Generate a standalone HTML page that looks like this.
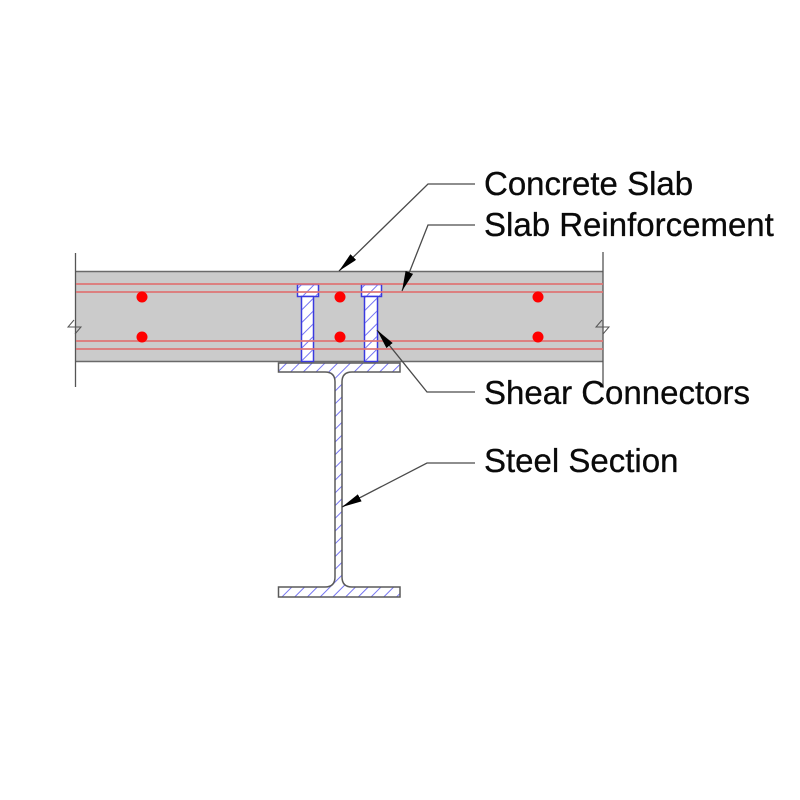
<!DOCTYPE html>
<html><head><meta charset="utf-8"><style>
html,body{margin:0;padding:0;background:#fff;}
svg{display:block;}
text{font-family:"Liberation Sans",Arial,sans-serif;font-size:33px;fill:#0a0a0a;stroke:#0a0a0a;stroke-width:0.3px;}
</style></head><body>
<svg width="800" height="800" viewBox="0 0 800 800" xmlns="http://www.w3.org/2000/svg">
<defs>
<pattern id="h" patternUnits="userSpaceOnUse" width="9" height="9" patternTransform="rotate(45)">
<line x1="0" y1="0" x2="0" y2="9" stroke="#6e6ef0" stroke-width="1.9"/>
</pattern>
<marker id="a" markerUnits="userSpaceOnUse" markerWidth="22" markerHeight="10" refX="20" refY="4" orient="auto">
<path d="M0,0 L20,4 L0,8 z" fill="#000"/>
</marker>
</defs>
<rect width="800" height="800" fill="#fff"/>
<!-- slab -->
<rect x="75" y="271" width="528" height="91" fill="#cbcbcb"/>
<line x1="75" y1="271.5" x2="603" y2="271.5" stroke="#6a6a6a" stroke-width="1.5"/>
<line x1="75" y1="361.5" x2="603" y2="361.5" stroke="#6a6a6a" stroke-width="1.5"/>
<line x1="75.5" y1="253" x2="75.5" y2="387" stroke="#555" stroke-width="1.3"/>
<line x1="603" y1="252" x2="603" y2="388" stroke="#555" stroke-width="1.3"/>
<polyline points="74,320 68,327 81,327 75,334" fill="none" stroke="#555" stroke-width="1"/>
<polyline points="602,320 596,327 609,327 603,334" fill="none" stroke="#555" stroke-width="1"/>
<!-- studs -->
<g fill="#fff" stroke="#3a3ae0" stroke-width="1.5">
<rect x="297.5" y="284.5" width="21" height="12"/>
<rect x="301.5" y="296.5" width="12" height="65"/>
<rect x="361.5" y="284.5" width="20" height="12"/>
<rect x="364.5" y="296.5" width="13" height="65"/>
</g>
<g fill="url(#h)">
<rect x="298" y="285" width="20" height="11"/>
<rect x="302" y="297" width="11" height="64"/>
<rect x="362" y="285" width="19" height="11"/>
<rect x="365" y="297" width="12" height="64"/>
</g>
<!-- rebar lines -->
<g stroke="#e07474" stroke-width="2" opacity="0.85">
<line x1="76" y1="284" x2="603" y2="284"/>
<line x1="76" y1="292" x2="603" y2="292"/>
<line x1="76" y1="341" x2="603" y2="341"/>
<line x1="76" y1="349" x2="603" y2="349"/>
</g>
<g fill="#f00">
<circle cx="142" cy="297" r="5.5"/><circle cx="142" cy="337" r="5.5"/>
<circle cx="340" cy="297" r="5.5"/><circle cx="340" cy="337" r="5.5"/>
<circle cx="538" cy="297" r="5.5"/><circle cx="538" cy="337" r="5.5"/>
</g>
<!-- steel section -->
<path d="M278.5,363 H400 V372 H352 Q342,372 342,382 V577 Q342,587 352,587 H400 V597 H278.5 V587 H325 Q335,587 335,577 V382 Q335,372 325,372 H278.5 Z" fill="#fff"/>
<path d="M278.5,363 H400 V372 H352 Q342,372 342,382 V577 Q342,587 352,587 H400 V597 H278.5 V587 H325 Q335,587 335,577 V382 Q335,372 325,372 H278.5 Z" fill="url(#h)" stroke="#5a5a5a" stroke-width="1.5"/>
<!-- leaders -->
<g fill="none" stroke="#4a4a4a" stroke-width="1.3">
<polyline points="475,184 428,184 339,271" marker-end="url(#a)"/>
<polyline points="475,225 428,225 402,291" marker-end="url(#a)"/>
<polyline points="475,392 427,392 377,330" marker-end="url(#a)"/>
<polyline points="475,463 427,463 342,507" marker-end="url(#a)"/>
</g>
<text x="484" y="195">Concrete Slab</text>
<text x="484" y="236">Slab Reinforcement</text>
<text x="484" y="404">Shear Connectors</text>
<text x="484" y="472">Steel Section</text>
</svg>
</body></html>
